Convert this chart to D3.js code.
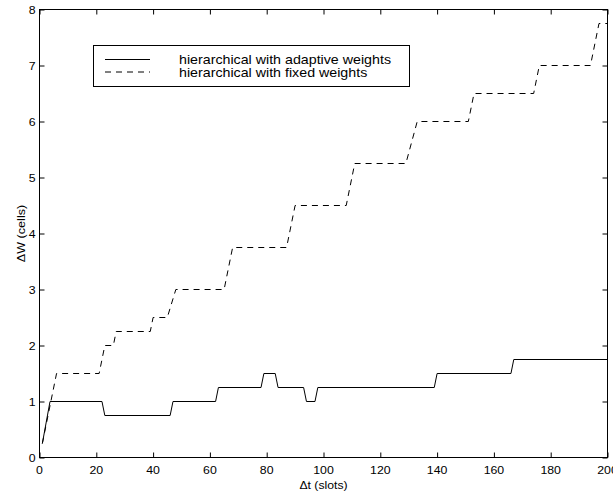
<!DOCTYPE html>
<html>
<head>
<meta charset="utf-8">
<script src="https://cdn.jsdelivr.net/npm/d3@7"></script>
<style>
  body { margin: 0; background: #fff; }
  svg { display: block; font-family: "Liberation Sans", Arial, Helvetica, sans-serif; }
</style>
</head>
<body>
<svg id="chart" width="613" height="493"></svg>
<script>
// time slots and delta W for each scheme
const adaptiveT = [1, 3.7, 22, 23, 46, 47, 62, 63, 78, 79, 83, 84, 93, 94, 97, 98, 139, 140, 166, 167, 200],
    adaptiveW = [0.25, 1, 1, 0.75, 0.75, 1, 1, 1.25, 1.25, 1.5, 1.5, 1.25, 1.25, 1, 1, 1.25, 1.25, 1.5, 1.5, 1.75, 1.75],
    fixedT = [1, 6, 21, 23, 26, 27, 39, 40, 45, 48, 65, 68, 87, 90, 108, 111, 129, 133, 151, 153, 174, 176, 194, 197, 200],
    fixedW = [0.25, 1.5, 1.5, 2, 2, 2.25, 2.25, 2.5, 2.5, 3, 3, 3.75, 3.75, 4.5, 4.5, 5.25, 5.25, 6, 6, 6.5, 6.5, 7, 7, 7.75, 7.75],
    xTicks = [0, 20, 40, 60, 80, 100, 120, 140, 160, 180, 200],
    yTicks = [0, 1, 2, 3, 4, 5, 6, 7, 8],
    seriesNames = ["hierarchical with adaptive weights", "hierarchical with fixed weights"],
    xLabel = "\u0394t (slots)",
    yLabel = "\u0394W (cells)";

const svg = d3.select("#chart"),
    pLeft = 39.5, pRight = 607.5, pTop = 9.5, pBottom = 457.5;

const x = d3.scaleLinear().domain([0, 200]).range([pLeft, pRight]),
    y = d3.scaleLinear().domain([0, 8]).range([pBottom, pTop]);

// axes, ticks pointing inwards like matlab
svg.append("g")
    .attr("transform", "translate(0," + pBottom + ")")
    .call(d3.axisBottom(x).tickValues(xTicks).tickSizeInner(-5).tickSizeOuter(0).tickFormat(d => ""));
svg.append("g")
    .attr("transform", "translate(0," + pTop + ")")
    .call(d3.axisTop(x).tickValues(xTicks).tickSizeInner(-5).tickSizeOuter(0).tickFormat(d => ""));
svg.append("g")
    .attr("transform", "translate(" + pLeft + ",0)")
    .call(d3.axisLeft(y).tickValues(yTicks).tickSizeInner(-5).tickSizeOuter(0).tickFormat(d => ""));
svg.append("g")
    .attr("transform", "translate(" + pRight + ",0)")
    .call(d3.axisRight(y).tickValues(yTicks).tickSizeInner(-5).tickSizeOuter(0).tickFormat(d => ""));
svg.selectAll(".domain").remove();
svg.selectAll(".tick line").attr("stroke", "#000");

svg.append("rect")
    .attr("x", pLeft).attr("y", pTop)
    .attr("width", pRight - pLeft).attr("height", pBottom - pTop)
    .attr("fill", "none").attr("stroke", "#000");

// text helper: the original text is a bit wider than tall
function label(px, py, txt, size, sx, anchor) {
    return svg.append("text")
        .attr("transform", "translate(" + px + "," + py + ") scale(" + sx + ",1)")
        .attr("text-anchor", anchor)
        .attr("font-size", size)
        .attr("fill", "#000")
        .text(txt);
}

xTicks.forEach(function(d) {
    label(x(d), 473.5, d, 11, 1.12, "middle");
});
yTicks.forEach(function(d) {
    label(35.5, y(d) + 4, d, 11, 1.12, "end");
});

label((pLeft + pRight) / 2, 489, xLabel, 11, 1.11, "middle");
svg.append("text")
    .attr("transform", "translate(24.5," + (pTop + pBottom) / 2 + ") rotate(-90) scale(1,0.85)")
    .attr("text-anchor", "middle")
    .attr("font-size", 12.6)
    .text(yLabel);

// series
const line = d3.line()
    .x(d => x(d[0]))
    .y(d => y(d[1]));

svg.append("path")
    .datum(d3.zip(fixedT, fixedW))
    .attr("d", line)
    .attr("fill", "none")
    .attr("stroke", "#000")
    .attr("stroke-width", 1)
    .attr("stroke-dasharray", "6,5");

svg.append("path")
    .datum(d3.zip(adaptiveT, adaptiveW))
    .attr("d", line)
    .attr("fill", "none")
    .attr("stroke", "#000")
    .attr("stroke-width", 1);

// legend
const lg = svg.append("g");
lg.append("rect")
    .attr("x", 93.5).attr("y", 45.5)
    .attr("width", 316).attr("height", 41)
    .attr("fill", "#fff").attr("stroke", "#000");

seriesNames.forEach(function(name, i) {
    var ly = 59.5 + i * 12.5;
    lg.append("line")
        .attr("x1", 105).attr("x2", 150)
        .attr("y1", ly).attr("y2", ly)
        .attr("stroke", "#000")
        .attr("stroke-dasharray", i == 1 ? "6,5" : null);
    label(179, ly + 4.5, name, 12.6, 1.13, "start");
});
</script>
</body>
</html>
